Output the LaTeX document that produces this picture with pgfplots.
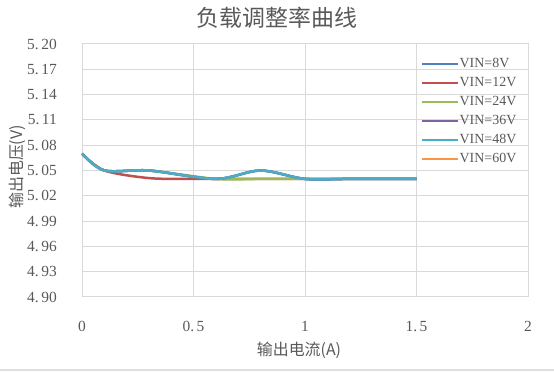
\documentclass[border=0pt]{standalone}
\usepackage{pgfplots}
\pgfplotsset{compat=1.18}
\usepackage{fontspec}
\setmainfont{Liberation Serif}
\newfontfamily\cjk{Noto Sans CJK SC}
\definecolor{c1}{HTML}{4F81BD}
\definecolor{c2}{HTML}{C0504D}
\definecolor{c3}{HTML}{9BBB59}
\definecolor{c4}{HTML}{8064A2}
\definecolor{c5}{HTML}{4BACC6}
\definecolor{c6}{HTML}{F79646}
\definecolor{txt}{HTML}{595959}
\definecolor{gridc}{HTML}{D9D9D9}
\begin{document}
\begin{tikzpicture}
\begin{axis}[
  scale only axis, width=446bp, height=253bp,
  clip=false,
  xmin=0, xmax=2, ymin=4.9, ymax=5.2,
  xtick={0,0.5,1,1.5,2},
  xticklabels={0,0.\,5,1,1.\,5,2},
  ytick={4.90,4.93,4.96,4.99,5.02,5.05,5.08,5.11,5.14,5.17,5.20},
  yticklabels={4.\,90,4.\,93,4.\,96,4.\,99,5.\,02,5.\,05,5.\,08,5.\,11,5.\,14,5.\,17,5.\,20},
  grid=major, grid style={draw=gridc, line width=1bp},
  axis line style={draw=gridc, line width=1bp},
  major tick length=0pt,
  tick label style={font=\fontsize{15.5}{15.5}\selectfont, text=txt, inner sep=0pt},
  yticklabel style={xshift=-25bp},
  xticklabel style={yshift=-24bp},
  legend style={at={(axis description cs:0.760,0.947)}, anchor=north west,
    draw=none, fill=none, inner sep=0pt, row sep=6bp,
    font=\fontsize{14}{14}\selectfont, text=txt,
    nodes={inner sep=0pt, text height=10bp, text depth=3bp},
    /tikz/every even column/.append style={column sep=0pt}},
  legend cell align=left,
  legend image code/.code={\draw[#1] (0bp,0bp) -- (36bp,0bp);},
  every axis plot/.append style={line width=2.5bp, smooth, no markers},
]
\addplot[c1] coordinates {(0,5.07)(0.1,5.05)(0.3,5.05)(0.6,5.04)(0.8,5.05)(1,5.04)(1.2,5.04)(1.5,5.04)};
\addlegendentry{VIN=8V}
\addplot[c2] coordinates {(0,5.07)(0.1,5.05)(0.3,5.041)(0.5,5.04)(0.8,5.04)(1,5.04)(1.2,5.04)(1.5,5.04)};
\addlegendentry{VIN=12V}
\addplot[c3] coordinates {(0,5.07)(0.1,5.05)(0.3,5.05)(0.6,5.04)(0.8,5.04)(1,5.04)(1.2,5.04)(1.5,5.04)};
\addlegendentry{VIN=24V}
\addplot[c4] coordinates {(0,5.07)(0.1,5.05)(0.3,5.05)(0.6,5.04)(0.8,5.05)(1,5.04)(1.2,5.04)(1.5,5.04)};
\addlegendentry{VIN=36V}
\addplot[c5] coordinates {(0,5.07)(0.1,5.05)(0.3,5.05)(0.6,5.04)(0.8,5.05)(1,5.04)(1.2,5.04)(1.5,5.04)};
\addlegendentry{VIN=48V}
\addlegendimage{c6, line width=2.5bp}
\addlegendentry{VIN=60V}
\node[text=txt, font=\cjk\fontsize{23}{23}\selectfont] at (axis description cs:0.437,1.1028) {负载调整率曲线};
\node[text=txt, font=\cjk\fontsize{16}{16}\selectfont] at (axis description cs:0.4865,-0.2095) {输出电流(A)};
\node[text=txt, font=\cjk\fontsize{16}{16}\selectfont, rotate=90] at (axis description cs:-0.1457,0.514) {输出电压(V)};
\draw[gray!25, line width=2bp] (axis description cs:-0.1839,-0.2885) -- (axis description cs:1.0583,-0.2885);
\coordinate (bl) at (axis description cs:-0.1839,-0.2964);
\coordinate (tr) at (axis description cs:1.0583,1.1739);
\end{axis}
\pgfresetboundingbox
\path[use as bounding box] (bl) rectangle (tr);
\end{tikzpicture}
\end{document}
